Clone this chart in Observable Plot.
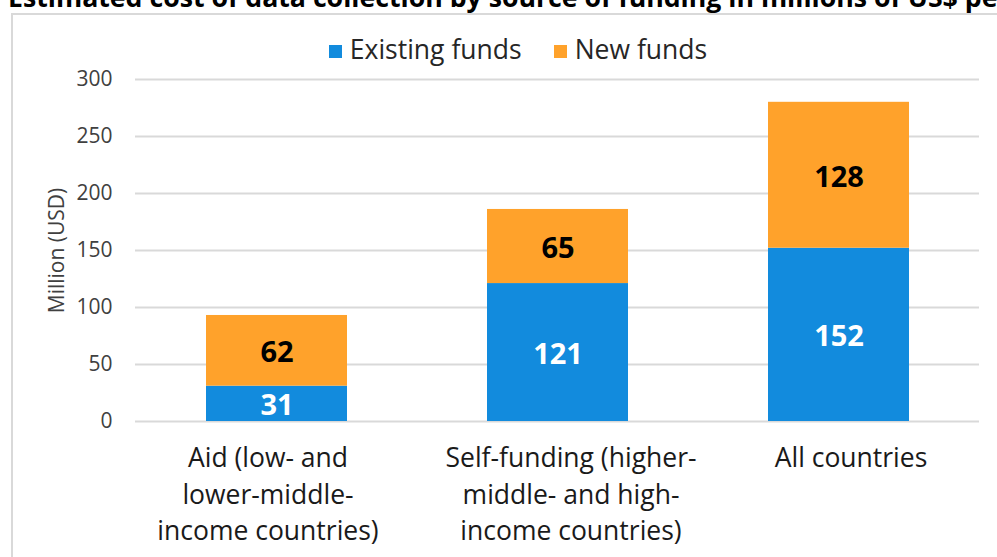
<!DOCTYPE html>
<html>
<head>
<meta charset="utf-8">
<script src="https://cdn.jsdelivr.net/npm/d3@7"></script>
<script src="https://cdn.jsdelivr.net/npm/@observablehq/plot@0.6"></script>
<style>
  html, body { margin: 0; padding: 0; background: #fff; }
  #wrap { position: relative; width: 997px; height: 557px; overflow: hidden; font-family: "Open Sans", sans-serif; }
  #title { position: absolute; left: 8px; top: -17px; line-height: 27px; font-size: 26.7px; font-weight: bold; white-space: nowrap; color: #000; }
  #frame { position: absolute; left: 11px; top: 13px; width: 1100px; height: 700px; border: 2px solid #d9d9d9; box-sizing: border-box; }
  #legend { position: absolute; top: 32px; left: 0; width: 1036px; display: flex; justify-content: center; gap: 32px; font-size: 26.5px; color: #262626; line-height: 34px; }
  #legend span.sw { display: inline-block; width: 13px; height: 13px; margin-right: 8px; vertical-align: 1px; }
  #chart { position: absolute; left: 0; top: 0; }
</style>
</head>
<body>
<div id="wrap">
  <div id="frame"></div>
  <div id="title"></div>
  <div id="legend"></div>
  <div id="chart"></div>
</div>
<script>
const titleText = "Estimated cost of data collection by source of funding in millions of US$ per year";
const categories = [
  "Aid (low- and\nlower-middle-\nincome countries)",
  "Self-funding (higher-\nmiddle- and high-\nincome countries)",
  "All countries"
];
const series = ["Existing funds", "New funds"];
const existingFunds = [31, 121, 152];
const newFunds = [62, 65, 128];
const colors = ["#128bdd", "#ffa22b"];
const yTicks = [0, 50, 100, 150, 200, 250, 300];
const yLabel = "Million (USD)";
const labelShift = [-9, 13, 12];

document.getElementById("title").textContent = titleText;

const legend = document.getElementById("legend");
series.forEach((s, i) => {
  const item = document.createElement("div");
  const sw = document.createElement("span");
  sw.className = "sw";
  sw.style.background = colors[i];
  item.appendChild(sw);
  item.appendChild(document.createTextNode(s));
  legend.appendChild(item);
});

const data = [];
categories.forEach((c, i) => {
  data.push({category: c, fund: series[0], value: existingFunds[i]});
  data.push({category: c, fund: series[1], value: newFunds[i]});
});

const chart = Plot.plot({
  width: 997,
  height: 557,
  marginTop: 79,
  marginBottom: 136,
  marginLeft: 135,
  marginRight: 18,
  style: {fontFamily: "Open Sans, sans-serif", background: "transparent", overflow: "visible"},
  x: {domain: categories, paddingInner: 0.5, paddingOuter: 0.25, label: null},
  y: {domain: [0, 300], label: null},
  color: {domain: series, range: colors},
  marks: [
    Plot.gridY(yTicks, {stroke: "#d9d9d9", strokeOpacity: 1, strokeWidth: 2}),
    Plot.barY(data, {x: "category", y: "value", fill: "fund", order: series}),
    Plot.text(data, Plot.stackY({
      x: "category", y: "value", z: "fund", order: series,
      text: d => d.fund === series[0] ? String(d.value) : null,
      fill: "white", fontSize: 29, fontWeight: "bold", dy: 2
    })),
    Plot.text(data, Plot.stackY({
      x: "category", y: "value", z: "fund", order: series,
      text: d => d.fund === series[1] ? String(d.value) : null,
      fill: "black", fontSize: 29, fontWeight: "bold", dy: 2
    })),
    Plot.axisY({
      ticks: yTicks, tickSize: 0, tickPadding: 23, fontSize: 21, fill: "#404040", label: null
    }),
    Plot.text([yLabel], {
      frameAnchor: "left", textAnchor: "middle", rotate: -90, dx: -78, fontSize: 21, fill: "#404040"
    }),
    ...categories.map((c, i) => Plot.axisX({
      ticks: [c], tickSize: 0, tickPadding: 20, dx: labelShift[i],
      fontSize: 26.5, lineHeight: 1.37, fill: "#1a1a1a", label: null
    }))
  ]
});
document.getElementById("chart").appendChild(chart);
</script>
</body>
</html>
